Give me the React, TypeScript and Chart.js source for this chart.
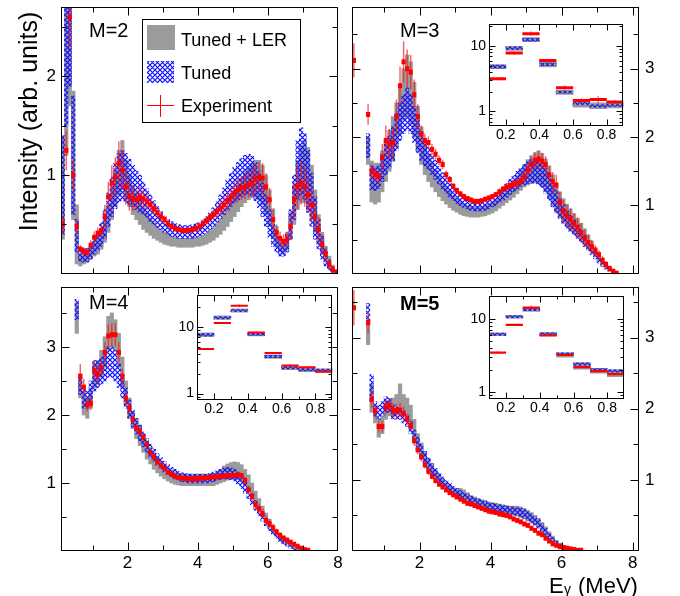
import React, { useEffect, useRef } from "react";
import { Chart, registerables } from "chart.js";

Chart.register(...registerables);

const FONT = '"Liberation Sans", Arial, Helvetica, sans-serif';
const GRAY = "#9b9b9b";
const RED = "#ff0000";
const RED_ERR = "rgba(255,20,20,0.7)";
const BLUE = "#1010ff";

type Arr = (number | null)[];

// ---- bin centres (MeV) of the main spectra ----
const E_MAIN = [0.15,0.25,0.35,0.45,0.55,0.65,0.75,0.85,0.95,1.05,1.15,1.25,1.35,1.45,1.55,1.65,1.75,1.85,1.95,2.05,2.15,2.25,2.35,2.45,2.55,2.65,2.75,2.85,2.95,3.05,3.15,3.25,3.35,3.45,3.55,3.65,3.75,3.85,3.95,4.05,4.15,4.25,4.35,4.45,4.55,4.65,4.75,4.85,4.95,5.05,5.15,5.25,5.35,5.45,5.55,5.65,5.75,5.85,5.95,6.05,6.15,6.25,6.35,6.45,6.55,6.65,6.75,6.85,6.95,7.05,7.15,7.25,7.35,7.45,7.55,7.65,7.75,7.85,7.95];

// ---- inset bin centres (MeV) ----
const E_INSET = [0.15,0.25,0.35,0.45,0.55,0.65,0.75,0.85];

// ---- tick labels ----
const MAIN_X_LABELS = ["2","4","6","8"];
const MAIN_Y_LABELS = ["1","2","3"];
const INSET_X_LABELS = ["0.2","0.4","0.6","0.8"];
const INSET_Y_LABELS = ["1","10"];

// ================= M = 2 =================
const M2_RED: Arr = [0.50,1.25,2.60,1.00,0.48,0.25,0.23,0.22,0.29,0.37,
0.41,0.44,0.58,0.78,0.92,0.98,1.12,1.05,0.88,0.79,
0.76,0.75,0.78,0.76,0.73,0.70,0.66,0.62,0.58,0.55,
0.51,0.48,0.46,0.45,0.44,0.44,0.44,0.45,0.46,0.48,
0.51,0.54,0.57,0.60,0.63,0.66,0.70,0.74,0.78,0.82,
0.85,0.87,0.88,0.90,0.92,0.96,0.98,0.97,0.88,0.75,
0.55,0.42,0.36,0.33,0.35,0.48,0.75,0.88,0.92,0.88,
0.80,0.70,0.58,0.45,0.30,0.20,0.10,0.05,0.02];
const M2_ERR: Arr = [0.08,0.20,0.30,0.15,0.08,0.04,0.04,0.04,0.05,0.06,
0.06,0.07,0.12,0.15,0.18,0.20,0.22,0.20,0.18,0.15,
0.12,0.10,0.10,0.09,0.08,0.07,0.06,0.05,0.05,0.04,
0.04,0.03,0.03,0.03,0.03,0.03,0.03,0.03,0.03,0.04,
0.04,0.04,0.05,0.05,0.06,0.07,0.08,0.09,0.10,0.11,
0.12,0.12,0.12,0.13,0.14,0.15,0.15,0.15,0.14,0.12,
0.10,0.08,0.07,0.07,0.08,0.12,0.18,0.22,0.22,0.20,
0.18,0.16,0.14,0.12,0.10,0.07,0.05,0.03,0.02];
const M2_BLUE_LO: Arr = [0.40,1.50,1.90,0.60,0.22,0.13,0.12,0.12,0.15,0.20,
0.24,0.28,0.36,0.48,0.58,0.66,0.72,0.74,0.72,0.70,
0.68,0.65,0.62,0.60,0.57,0.53,0.50,0.47,0.45,0.42,
0.40,0.38,0.37,0.36,0.36,0.36,0.36,0.36,0.37,0.38,
0.40,0.42,0.45,0.48,0.52,0.56,0.60,0.64,0.68,0.72,
0.75,0.78,0.80,0.81,0.79,0.74,0.67,0.58,0.48,0.37,
0.28,0.22,0.18,0.18,0.22,0.35,0.55,0.75,0.80,0.75,
0.62,0.48,0.35,0.25,0.15,0.08,0.04,0.01,0.00];
const M2_BLUE_HI: Arr = [1.40,2.80,2.80,1.80,0.55,0.27,0.26,0.26,0.30,0.38,
0.44,0.52,0.65,0.82,0.98,1.12,1.22,1.25,1.22,1.16,
1.10,1.05,1.00,0.93,0.86,0.80,0.74,0.68,0.63,0.58,
0.55,0.53,0.51,0.50,0.49,0.49,0.49,0.50,0.51,0.52,
0.55,0.58,0.62,0.67,0.73,0.80,0.87,0.95,1.02,1.08,
1.13,1.17,1.20,1.21,1.19,1.13,1.04,0.93,0.80,0.65,
0.50,0.39,0.32,0.30,0.40,0.65,1.00,1.35,1.48,1.42,
1.25,1.02,0.78,0.55,0.38,0.25,0.14,0.07,0.03];
const M2_GRAY_LO: Arr = [0.35,1.20,1.70,0.55,0.10,0.08,0.10,0.12,0.15,0.18,
0.20,0.25,0.32,0.42,0.55,0.68,0.80,0.85,0.75,0.68,
0.60,0.55,0.50,0.45,0.42,0.39,0.36,0.34,0.32,0.30,
0.29,0.28,0.28,0.27,0.27,0.27,0.27,0.27,0.28,0.28,
0.29,0.30,0.32,0.34,0.37,0.40,0.44,0.48,0.53,0.58,
0.63,0.68,0.72,0.75,0.77,0.77,0.75,0.70,0.60,0.48,
0.36,0.27,0.22,0.20,0.24,0.35,0.50,0.65,0.72,0.72,
0.65,0.55,0.42,0.30,0.20,0.12,0.06,0.02,0.00];
const M2_GRAY_HI: Arr = [1.40,2.80,2.80,1.85,0.70,0.20,0.22,0.24,0.28,0.33,
0.38,0.45,0.55,0.70,0.88,1.05,1.25,1.35,1.15,1.00,
0.90,0.82,0.75,0.68,0.62,0.57,0.52,0.48,0.45,0.42,
0.40,0.38,0.37,0.36,0.36,0.36,0.36,0.37,0.37,0.37,
0.39,0.41,0.44,0.47,0.51,0.56,0.62,0.68,0.75,0.82,
0.90,0.97,1.03,1.08,1.12,1.15,1.15,1.10,1.00,0.85,
0.66,0.48,0.37,0.33,0.42,0.62,0.90,1.15,1.30,1.35,
1.28,1.10,0.85,0.60,0.42,0.28,0.18,0.09,0.04];

// ================= M = 3 =================
const M3_RED: Arr = [3.12,null,null,null,2.33,1.50,1.45,1.42,1.70,1.95,
1.90,1.92,2.30,2.75,3.10,3.00,2.95,2.62,2.30,2.05,
1.95,1.92,1.82,1.75,1.66,1.60,1.45,1.38,1.28,1.22,
1.17,1.13,1.10,1.08,1.06,1.06,1.07,1.09,1.11,1.13,
1.16,1.20,1.24,1.27,1.29,1.31,1.33,1.36,1.42,1.52,
1.60,1.66,1.68,1.65,1.60,1.45,1.35,1.30,1.05,0.92,
0.85,0.80,0.74,0.68,0.60,0.52,0.46,0.40,0.34,0.28,
0.20,0.14,0.08,0.04,0.01];
const M3_ERR: Arr = [0.25,null,null,null,0.15,0.10,0.10,0.10,0.20,0.22,
0.22,0.22,0.25,0.28,0.30,0.28,0.25,0.22,0.18,0.12,
0.10,0.09,0.08,0.08,0.07,0.07,0.06,0.05,0.05,0.04,
0.04,0.04,0.04,0.04,0.04,0.04,0.04,0.04,0.04,0.04,
0.04,0.05,0.05,0.05,0.06,0.06,0.07,0.08,0.09,0.10,
0.11,0.12,0.12,0.12,0.12,0.12,0.14,0.15,0.15,0.16,
0.16,0.16,0.15,0.15,0.14,0.13,0.12,0.10,0.08,0.07,
0.06,0.05,0.04,0.03,0.02];
const M3_BLUE_LO: Arr = [null,null,null,null,1.70,1.23,1.22,1.25,1.35,1.45,
1.55,1.65,1.80,1.95,2.05,2.10,2.05,1.92,1.77,1.66,
1.58,1.52,1.45,1.38,1.31,1.24,1.18,1.12,1.07,1.03,
1.00,0.97,0.95,0.93,0.92,0.92,0.92,0.93,0.95,0.98,
1.00,1.04,1.08,1.12,1.16,1.20,1.24,1.28,1.30,1.32,
1.33,1.33,1.30,1.26,1.18,1.08,0.98,0.89,0.81,0.74,
0.67,0.62,0.57,0.52,0.46,0.40,0.34,0.28,0.22,0.16,
0.11,0.07,0.04,0.02,0.00];
const M3_BLUE_HI: Arr = [null,null,null,null,2.05,1.58,1.55,1.58,1.75,1.90,
2.02,2.15,2.35,2.50,2.62,2.72,2.62,2.45,2.25,2.07,
1.95,1.85,1.75,1.66,1.57,1.48,1.40,1.33,1.27,1.21,
1.17,1.13,1.10,1.08,1.07,1.06,1.07,1.08,1.10,1.13,
1.17,1.21,1.26,1.32,1.38,1.44,1.50,1.55,1.60,1.64,
1.67,1.68,1.66,1.62,1.55,1.45,1.34,1.22,1.10,1.01,
0.93,0.86,0.79,0.72,0.65,0.57,0.49,0.41,0.33,0.26,
0.19,0.13,0.08,0.05,0.02];
const M3_GRAY_LO: Arr = [null,null,null,null,1.60,1.05,1.02,1.05,1.20,1.35,
1.50,1.65,1.85,2.05,2.25,2.30,2.20,2.00,1.80,1.60,
1.45,1.35,1.27,1.20,1.13,1.07,1.02,0.97,0.93,0.90,
0.87,0.85,0.84,0.83,0.83,0.83,0.84,0.85,0.87,0.89,
0.92,0.96,1.00,1.04,1.08,1.12,1.17,1.22,1.27,1.30,
1.32,1.33,1.32,1.28,1.20,1.10,1.00,0.90,0.82,0.75,
0.69,0.64,0.59,0.54,0.49,0.43,0.37,0.31,0.25,0.19,
0.13,0.08,0.04,0.02,0.00];
const M3_GRAY_HI: Arr = [null,null,null,null,2.00,1.65,1.62,1.62,1.80,1.95,
2.10,2.30,2.50,2.72,3.00,3.20,3.10,2.80,2.45,2.15,
1.90,1.75,1.63,1.52,1.43,1.35,1.28,1.21,1.15,1.10,
1.06,1.03,1.00,0.99,0.98,0.98,0.99,1.00,1.02,1.05,
1.09,1.13,1.18,1.24,1.30,1.37,1.44,1.52,1.60,1.67,
1.73,1.77,1.80,1.76,1.68,1.58,1.45,1.32,1.20,1.10,
1.02,0.95,0.88,0.81,0.74,0.66,0.57,0.48,0.39,0.31,
0.23,0.16,0.10,0.06,0.02];

// ================= M = 4 =================
const M4_RED: Arr = [null,null,null,null,null,2.57,2.41,2.15,2.17,2.65,
2.60,2.69,2.92,3.16,3.18,3.18,2.92,2.56,2.24,2.10,
1.93,1.81,1.76,1.67,1.57,1.45,1.38,1.31,1.26,1.22,
1.16,1.13,1.10,1.08,1.07,1.07,1.06,1.06,1.06,1.07,
1.07,1.08,1.08,1.09,1.09,1.10,1.10,1.11,1.11,1.11,
1.12,1.11,1.04,0.90,0.80,0.68,0.62,0.55,0.45,0.40,
0.34,0.28,0.23,0.19,0.16,0.13,0.10,0.07,0.04,0.02,
0.01];
const M4_ERR: Arr = [null,null,null,null,null,0.18,0.12,0.10,0.10,0.14,
0.12,0.12,0.15,0.17,0.17,0.17,0.15,0.12,0.10,0.08,
0.07,0.06,0.06,0.05,0.05,0.05,0.04,0.04,0.04,0.04,
0.03,0.03,0.03,0.03,0.03,0.03,0.03,0.03,0.03,0.03,
0.03,0.03,0.03,0.03,0.03,0.03,0.03,0.03,0.03,0.03,
0.03,0.04,0.05,0.06,0.07,0.07,0.07,0.07,0.07,0.06,
0.06,0.05,0.05,0.04,0.04,0.03,0.03,0.02,0.02,0.02,
0.01];
const M4_BLUE_LO: Arr = [null,null,null,null,3.40,2.30,2.10,2.10,2.20,2.35,
2.40,2.45,2.50,2.55,2.55,2.50,2.40,2.25,2.10,1.95,
1.82,1.72,1.62,1.53,1.45,1.38,1.32,1.26,1.21,1.16,
1.12,1.09,1.06,1.04,1.02,1.01,1.00,1.00,1.00,1.00,
1.00,1.00,1.01,1.02,1.04,1.05,1.06,1.06,1.05,1.03,
0.98,0.92,0.85,0.77,0.68,0.60,0.52,0.44,0.37,0.30,
0.24,0.19,0.14,0.10,0.07,0.04,0.02,0.01,0.00];
const M4_BLUE_HI: Arr = [null,null,null,null,3.70,2.55,2.40,2.35,2.50,2.80,
2.80,2.85,2.95,3.00,3.00,2.95,2.75,2.60,2.40,2.22,
2.07,1.95,1.85,1.75,1.65,1.57,1.50,1.43,1.37,1.32,
1.27,1.23,1.20,1.17,1.15,1.14,1.13,1.13,1.13,1.13,
1.13,1.13,1.14,1.16,1.18,1.20,1.22,1.23,1.22,1.20,
1.16,1.10,1.02,0.94,0.84,0.74,0.65,0.56,0.47,0.39,
0.32,0.26,0.20,0.15,0.11,0.08,0.05,0.03,0.02];
const M4_GRAY_LO: Arr = [null,null,null,null,3.20,2.25,2.00,1.95,2.10,2.40,
2.45,2.55,2.70,2.95,3.00,2.95,2.70,2.40,2.15,1.95,
1.80,1.65,1.55,1.45,1.35,1.28,1.20,1.15,1.10,1.06,
1.03,1.00,0.98,0.97,0.96,0.96,0.96,0.96,0.96,0.96,
0.96,0.96,0.96,0.96,0.98,1.00,1.02,1.04,1.05,1.06,
1.05,1.02,0.97,0.90,0.80,0.70,0.60,0.51,0.43,0.35,
0.28,0.22,0.17,0.12,0.09,0.06,0.04,0.02,0.01,0.00];
const M4_GRAY_HI: Arr = [null,null,null,null,3.65,2.60,2.35,2.25,2.40,2.75,
2.80,2.95,3.15,3.45,3.50,3.40,3.20,2.85,2.50,2.25,
2.05,1.95,1.85,1.72,1.62,1.52,1.45,1.38,1.32,1.27,
1.22,1.19,1.16,1.14,1.13,1.13,1.13,1.13,1.13,1.13,
1.13,1.13,1.13,1.14,1.16,1.20,1.25,1.28,1.30,1.31,
1.30,1.27,1.20,1.12,1.00,0.88,0.77,0.66,0.56,0.47,
0.38,0.31,0.24,0.18,0.14,0.10,0.07,0.05,0.03,0.02];

// ================= M = 5 =================
const M5_RED: Arr = [3.42,null,null,null,3.21,2.13,1.97,1.75,1.75,2.02,
2.05,1.98,1.97,1.98,1.93,1.85,1.76,1.55,1.42,1.32,
1.21,1.12,1.05,0.99,0.94,0.90,0.86,0.82,0.79,0.76,
0.73,0.70,0.67,0.66,0.64,0.62,0.60,0.58,0.56,0.55,
0.54,0.52,0.51,0.50,0.48,0.45,0.43,0.41,0.38,0.36,
0.32,0.29,0.25,0.23,0.18,0.14,0.10,0.08,0.06,0.05,
0.04,0.03,0.02,0.01,0.01];
const M5_ERR: Arr = [0.25,null,null,null,0.15,0.12,0.10,0.08,0.08,0.10,
0.10,0.10,0.10,0.10,0.10,0.08,0.08,0.07,0.06,0.06,
0.05,0.05,0.04,0.04,0.04,0.03,0.03,0.03,0.03,0.03,
0.03,0.03,0.03,0.03,0.03,0.03,0.03,0.03,0.03,0.03,
0.03,0.03,0.03,0.03,0.03,0.03,0.03,0.03,0.02,0.02,
0.02,0.02,0.02,0.02,0.02,0.02,0.02,0.02,0.02,0.02,
0.02,0.01,0.01,0.01,0.01];
const M5_BLUE_LO: Arr = [null,null,null,null,3.21,2.10,1.90,1.85,1.90,1.95,
1.95,1.86,1.85,1.85,1.80,1.75,1.65,1.52,1.42,1.33,
1.24,1.16,1.09,1.03,0.97,0.92,0.88,0.84,0.80,0.77,
0.74,0.71,0.69,0.67,0.65,0.63,0.62,0.60,0.59,0.57,
0.56,0.55,0.54,0.53,0.52,0.51,0.50,0.48,0.46,0.43,
0.40,0.37,0.33,0.28,0.22,0.17,0.12,0.08,0.05,0.03,
0.02,0.01,0.00];
const M5_BLUE_HI: Arr = [null,null,null,null,3.48,2.48,2.10,2.05,2.10,2.17,
2.15,2.05,2.02,2.00,1.97,1.92,1.82,1.70,1.60,1.50,
1.40,1.31,1.23,1.16,1.10,1.04,0.99,0.95,0.91,0.88,
0.85,0.82,0.80,0.77,0.75,0.73,0.72,0.70,0.68,0.67,
0.66,0.65,0.64,0.63,0.62,0.62,0.61,0.60,0.58,0.55,
0.52,0.48,0.44,0.38,0.32,0.25,0.19,0.14,0.10,0.07,
0.05,0.03,0.02];
const M5_GRAY_LO: Arr = [null,null,null,null,2.90,1.95,1.80,1.60,1.65,1.85,
1.90,1.90,1.92,1.95,1.90,1.85,1.72,1.55,1.42,1.30,
1.20,1.12,1.05,0.98,0.93,0.88,0.83,0.80,0.77,0.74,
0.72,0.70,0.68,0.66,0.64,0.62,0.60,0.59,0.57,0.56,
0.55,0.54,0.53,0.52,0.51,0.50,0.49,0.47,0.45,0.42,
0.39,0.36,0.32,0.27,0.22,0.17,0.12,0.08,0.05,0.03,
0.02,0.01,0.00];
const M5_GRAY_HI: Arr = [null,null,null,null,3.25,2.35,2.05,1.85,1.90,2.10,
2.12,2.15,2.20,2.35,2.20,2.15,2.05,1.85,1.65,1.52,
1.40,1.30,1.22,1.14,1.07,1.01,0.96,0.92,0.89,0.87,
0.88,0.86,0.82,0.78,0.76,0.74,0.72,0.71,0.69,0.68,
0.67,0.66,0.65,0.64,0.63,0.63,0.63,0.62,0.60,0.57,
0.54,0.50,0.46,0.40,0.34,0.27,0.21,0.15,0.11,0.08,
0.05,0.03,0.02];

// ================= insets (low-energy bins, log scale) =================
const I3_RED: Arr = [3.16,7.8,15.4,6.0,2.31,1.47,1.52,1.40];
const I3_ERR: Arr = [0.15,0.5,1.2,0.35,0.18,0.12,0.2,0.1];
const I3_BLUE_LO: Arr = [4.6,8.8,11.9,5.0,1.90,1.26,1.16,1.19];
const I3_BLUE_HI: Arr = [5.1,9.7,13.1,5.5,2.05,1.37,1.27,1.30];
const I3_GRAY_LO: Arr = [4.5,8.6,11.7,4.8,1.83,1.16,1.10,1.13];
const I3_GRAY_HI: Arr = [5.2,9.9,13.4,5.7,2.10,1.42,1.35,1.36];

const I4_RED: Arr = [4.69,11.6,21.0,8.3,4.1,2.65,2.5,2.14];
const I4_ERR: Arr = [0.1,0.2,1.0,0.3,0.1,0.12,0.06,0.05];
const I4_BLUE_LO: Arr = [7.35,13.3,17.1,7.55,3.48,2.35,2.20,2.16];
const I4_BLUE_HI: Arr = [8.0,14.5,18.5,8.15,3.77,2.54,2.38,2.33];
const I4_GRAY_LO: Arr = [7.2,13.1,16.8,7.4,3.40,2.30,2.14,2.08];
const I4_GRAY_HI: Arr = [8.2,14.8,18.9,8.3,3.85,2.58,2.42,2.36];

const I5_RED: Arr = [3.46,8.3,14.3,5.92,3.2,2.18,1.93,1.75];
const I5_ERR: Arr = [0.15,0.2,1.0,0.15,0.08,0.06,0.05,0.05];
const I5_BLUE_LO: Arr = [5.95,10.3,12.9,6.02,3.18,2.32,1.94,1.86];
const I5_BLUE_HI: Arr = [6.38,11.1,13.9,6.46,3.42,2.50,2.08,2.00];
const I5_GRAY_LO: Arr = [5.9,10.2,12.8,5.95,3.0,2.05,1.80,1.62];
const I5_GRAY_HI: Arr = [6.45,11.2,14.0,6.55,3.45,2.52,2.10,2.02];

// ------------------------------------------------------------------
type Series = { red: Arr; err: Arr; blueLo: Arr; blueHi: Arr; grayLo: Arr; grayHi: Arr };
type Box = { left: number; top: number; width: number; height: number };

function makeHatch(): any {
  const c = document.createElement("canvas");
  c.width = 5;
  c.height = 5;
  const g = c.getContext("2d");
  if (!g) return BLUE;
  g.strokeStyle = BLUE;
  g.lineWidth = 1.15;
  g.beginPath();
  g.moveTo(-1, -1);
  g.lineTo(6, 6);
  g.moveTo(6, -1);
  g.lineTo(-1, 6);
  g.stroke();
  return g.createPattern(c, "repeat") || BLUE;
}

function rangeData(xs: number[], lo: Arr, hi: Arr) {
  const out: any[] = [];
  xs.forEach((x, i) => {
    const a = lo[i];
    const b = hi[i];
    if (a != null && b != null) out.push({ x, y: [a, b] });
  });
  return out;
}
function errData(xs: number[], v: Arr, e: Arr) {
  const out: any[] = [];
  xs.forEach((x, i) => {
    const a = v[i];
    const b = e[i];
    if (a != null && b != null) out.push({ x, y: [a - b, a + b] });
  });
  return out;
}
function pointData(xs: number[], v: Arr) {
  const out: any[] = [];
  xs.forEach((x, i) => {
    const a = v[i];
    if (a != null) out.push({ x, y: a });
  });
  return out;
}

function seriesDatasets(xs: number[], s: Series, hatch: any, r: number, w: number, errW: number) {
  return [
    { type: "bar", label: "Tuned + LER", data: rangeData(xs, s.grayLo, s.grayHi), backgroundColor: GRAY,
      grouped: false, barPercentage: 1, categoryPercentage: 1, borderWidth: 0, order: 4 },
    { type: "bar", label: "Tuned", data: rangeData(xs, s.blueLo, s.blueHi), backgroundColor: hatch,
      grouped: false, barPercentage: 1, categoryPercentage: 1, borderWidth: 0, order: 3 },
    { type: "bar", label: "Experiment (error)", data: errData(xs, s.red, s.err), backgroundColor: RED_ERR,
      grouped: false, barThickness: errW, inflateAmount: 0, borderWidth: 0, order: 2 },
    { type: "scatter", label: "Experiment", data: pointData(xs, s.red), pointStyle: "line",
      pointRadius: r, pointHoverRadius: r, borderColor: RED, backgroundColor: RED,
      pointBorderColor: RED, pointBorderWidth: w, order: 1 },
  ];
}

type TickFn = (v: number) => number;

function makeDecor(cfg: { tx: TickFn; ty: TickFn; major: number; minor: number; white?: boolean; draw?: (ctx: any) => void }) {
  return {
    id: "decor",
    beforeDatasetsDraw(chart: any) {
      if (!cfg.white) return;
      const a = chart.chartArea;
      const ctx = chart.ctx;
      ctx.save();
      ctx.fillStyle = "#fff";
      ctx.fillRect(a.left, a.top, a.right - a.left, a.bottom - a.top);
      ctx.restore();
    },
    afterDatasetsDraw(chart: any) {
      const ctx = chart.ctx;
      const a = chart.chartArea;
      const sx = chart.scales.x;
      const sy = chart.scales.y;
      const L = Math.round(a.left) + 0.5;
      const R = Math.round(a.right) - 0.5;
      const T = Math.round(a.top) + 0.5;
      const B = Math.round(a.bottom) - 0.5;
      ctx.save();
      ctx.strokeStyle = "#000";
      ctx.lineWidth = 1;
      ctx.beginPath();
      for (const t of sx.ticks) {
        const k = cfg.tx(t.value);
        if (!k) continue;
        const px = Math.round(sx.getPixelForValue(t.value)) + 0.5;
        if (px <= L + 1 || px >= R - 1) continue;
        const len = k === 2 ? cfg.major : cfg.minor;
        ctx.moveTo(px, B);
        ctx.lineTo(px, B - len);
        ctx.moveTo(px, T);
        ctx.lineTo(px, T + len);
      }
      for (const t of sy.ticks) {
        const k = cfg.ty(t.value);
        if (!k) continue;
        const py = Math.round(sy.getPixelForValue(t.value)) + 0.5;
        if (py <= T + 1 || py >= B - 1) continue;
        const len = k === 2 ? cfg.major : cfg.minor;
        ctx.moveTo(L, py);
        ctx.lineTo(L + len, py);
        ctx.moveTo(R, py);
        ctx.lineTo(R - len, py);
      }
      ctx.stroke();
      ctx.strokeRect(L, T, R - L, B - T);
      ctx.restore();
      if (cfg.draw) {
        ctx.save();
        cfg.draw(ctx);
        ctx.restore();
      }
    },
  };
}

const near = (a: number, b: number) => Math.abs(a - b) < 1e-6;
const mainTickX: TickFn = (v) => {
  const n = Math.round(v);
  if (!near(v, n) || n <= 0) return 0;
  return n % 2 === 0 ? 2 : 1;
};
const mainTickY: TickFn = (v) => {
  const n = Math.round(v * 2);
  if (!near(v * 2, n) || n <= 0) return 0;
  return n % 2 === 0 ? 2 : 1;
};
const insetTickX: TickFn = (v) => {
  const n = Math.round(v * 10);
  if (!near(v * 10, n)) return 0;
  return n % 2 === 0 ? 2 : 1;
};
const insetTickY: TickFn = (v) => {
  if (v <= 0) return 0;
  const e = Math.floor(Math.log10(v) + 1e-9);
  const m = v / Math.pow(10, e);
  const r = Math.round(m);
  if (Math.abs(m - r) > 1e-6) return 0;
  return r === 1 ? 2 : 1;
};

const labelIn = (list: string[], fmt: (v: number) => string) => (v: any) => {
  const s = fmt(Number(v));
  return list.indexOf(s) >= 0 ? s : "";
};
const mainXLabel = labelIn(MAIN_X_LABELS, (v) => (near(v, Math.round(v)) ? String(Math.round(v)) : ""));
const mainYLabel = labelIn(MAIN_Y_LABELS, (v) => (near(v, Math.round(v)) ? String(Math.round(v)) : ""));
const insetXLabel = labelIn(INSET_X_LABELS, (v) => (Math.round(v * 10) / 10).toFixed(1));
const insetYLabel = labelIn(INSET_Y_LABELS, (v) => (near(v, Math.round(v)) ? String(Math.round(v)) : ""));

// ------------------------------------------------------------------
type MainSpec = {
  key: string; box: Box; s: Series; label: string; bold: boolean; labelX: number; labelY: number;
  padding: any; yAxisW: number; xAxisH: number; xMax: number; yMax: number; yRight: boolean; xLabels: boolean;
  extra?: (ctx: any, hatch: any) => void;
};

function buildMain(p: MainSpec) {
  const hatch = makeHatch();
  const tickFont = { family: FONT, size: 17 };
  return {
    type: "bar",
    data: { datasets: seriesDatasets(E_MAIN, p.s, hatch, 2.1, 5, 1.4) },
    options: {
      responsive: false,
      animation: false,
      events: [],
      layout: { padding: p.padding },
      plugins: { legend: { display: false }, tooltip: { enabled: false } },
      scales: {
        x: {
          type: "linear", min: 0.1, max: p.xMax, offset: false,
          grid: { display: false, drawTicks: false }, border: { display: false },
          ticks: { display: p.xLabels, stepSize: 1, includeBounds: false, autoSkip: false, maxRotation: 0, minRotation: 0,
            padding: 2, color: "#000", font: tickFont, callback: mainXLabel },
          afterFit: (sc: any) => { sc.height = p.xAxisH; sc.paddingLeft = 0; sc.paddingRight = 0; },
        },
        y: {
          type: "linear", position: p.yRight ? "right" : "left", min: 0, max: p.yMax,
          grid: { display: false, drawTicks: false }, border: { display: false },
          ticks: { stepSize: 0.5, includeBounds: false, autoSkip: false, padding: p.yRight ? 6 : 5, color: "#000", font: tickFont, callback: mainYLabel },
          afterFit: (sc: any) => { sc.width = p.yAxisW; sc.paddingTop = 0; sc.paddingBottom = 0; },
        },
      },
    },
    plugins: [
      makeDecor({
        tx: mainTickX, ty: mainTickY, major: 8, minor: 5,
        draw: (ctx) => {
          ctx.fillStyle = "#000";
          ctx.textAlign = "left";
          ctx.textBaseline = "alphabetic";
          ctx.font = `${p.bold ? "bold " : ""}20px ${FONT}`;
          ctx.fillText(p.label, p.labelX, p.labelY);
          if (p.extra) p.extra(ctx, hatch);
        },
      }),
    ],
  };
}

type InsetSpec = { key: string; box: Box; s: Series; yMin: number; yMax: number; xAxisH: number; redW: number };

function buildInset(p: InsetSpec) {
  const hatch = makeHatch();
  const tickFont = { family: FONT, size: 14 };
  return {
    type: "bar",
    data: { datasets: seriesDatasets(E_INSET, p.s, hatch, 8.6, p.redW, 1.2) },
    options: {
      responsive: false,
      animation: false,
      events: [],
      layout: { padding: { top: 7, right: 8, bottom: 0, left: 0 } },
      plugins: { legend: { display: false }, tooltip: { enabled: false } },
      scales: {
        x: {
          type: "linear", min: 0.1, max: 0.9, offset: false,
          grid: { display: false, drawTicks: false }, border: { display: false },
          ticks: { stepSize: 0.1, autoSkip: false, maxRotation: 0, minRotation: 0, padding: 1,
            color: "#000", font: tickFont, callback: insetXLabel },
          afterFit: (sc: any) => { sc.height = p.xAxisH; sc.paddingLeft = 0; sc.paddingRight = 0; },
        },
        y: {
          type: "logarithmic", position: "left", min: p.yMin, max: p.yMax,
          grid: { display: false, drawTicks: false }, border: { display: false },
          ticks: { autoSkip: false, padding: 3, color: "#000", font: tickFont, callback: insetYLabel },
          afterFit: (sc: any) => { sc.width = 34; sc.paddingTop = 0; sc.paddingBottom = 0; },
        },
      },
    },
    plugins: [makeDecor({ tx: insetTickX, ty: insetTickY, major: 6, minor: 3, white: true })],
  };
}

// ------------------------------------------------------------------
const drawLegendAndTitle = (ctx: any, hatch: any) => {
  // y-axis title
  ctx.save();
  ctx.translate(37, 121.5);
  ctx.rotate(-Math.PI / 2);
  ctx.font = `25px ${FONT}`;
  ctx.textAlign = "center";
  ctx.textBaseline = "alphabetic";
  ctx.fillStyle = "#000";
  ctx.fillText("Intensity (arb. units)", 0, 0);
  ctx.restore();
  // legend
  ctx.fillStyle = "#fff";
  ctx.fillRect(142, 19, 159, 104);
  ctx.strokeStyle = "#000";
  ctx.lineWidth = 1;
  ctx.strokeRect(142.5, 19.5, 158, 103);
  ctx.fillStyle = GRAY;
  ctx.fillRect(147, 25, 28, 25);
  ctx.fillStyle = hatch;
  ctx.fillRect(147, 61, 27, 22);
  ctx.strokeStyle = RED;
  ctx.beginPath();
  ctx.moveTo(147, 105.5);
  ctx.lineTo(174, 105.5);
  ctx.moveTo(160.5, 95);
  ctx.lineTo(160.5, 117);
  ctx.stroke();
  ctx.fillStyle = "#000";
  ctx.font = `18px ${FONT}`;
  ctx.textAlign = "left";
  ctx.textBaseline = "alphabetic";
  ctx.fillText("Tuned + LER", 181, 46);
  ctx.fillText("Tuned", 181, 79);
  ctx.fillText("Experiment", 181, 112);
};

const drawXTitle = (ctx: any) => {
  ctx.fillStyle = "#000";
  ctx.textAlign = "left";
  ctx.textBaseline = "alphabetic";
  ctx.font = `22px ${FONT}`;
  ctx.fillText("E", 204, 313);
  ctx.font = `14px ${FONT}`;
  ctx.fillText("γ", 219, 314);
  ctx.font = `22px ${FONT}`;
  ctx.fillText("(MeV)", 233, 313);
};

const MAIN_PANELS: MainSpec[] = [
  { key: "m2", box: { left: 0, top: 0, width: 345, height: 281 },
    s: { red: M2_RED, err: M2_ERR, blueLo: M2_BLUE_LO, blueHi: M2_BLUE_HI, grayLo: M2_GRAY_LO, grayHi: M2_GRAY_HI },
    label: "M=2", bold: false, labelX: 89, labelY: 37,
    padding: { top: 7, right: 4, bottom: 0, left: 0 }, yAxisW: 61, xAxisH: 4, xMax: 8.0, yMax: 2.7, yRight: false, xLabels: false,
    extra: drawLegendAndTitle },
  { key: "m3", box: { left: 345, top: 0, width: 335, height: 281 },
    s: { red: M3_RED, err: M3_ERR, blueLo: M3_BLUE_LO, blueHi: M3_BLUE_HI, grayLo: M3_GRAY_LO, grayHi: M3_GRAY_HI },
    label: "M=3", bold: false, labelX: 55, labelY: 37,
    padding: { top: 7, right: 0, bottom: 0, left: 7 }, yAxisW: 41, xAxisH: 4, xMax: 8.18, yMax: 3.9, yRight: true, xLabels: false },
  { key: "m4", box: { left: 0, top: 280, width: 345, height: 316 },
    s: { red: M4_RED, err: M4_ERR, blueLo: M4_BLUE_LO, blueHi: M4_BLUE_HI, grayLo: M4_GRAY_LO, grayHi: M4_GRAY_HI },
    label: "M=4", bold: false, labelX: 89, labelY: 29,
    padding: { top: 1, right: 4, bottom: 0, left: 0 }, yAxisW: 61, xAxisH: 45, xMax: 8.0, yMax: 3.88, yRight: false, xLabels: true },
  { key: "m5", box: { left: 345, top: 280, width: 335, height: 316 },
    s: { red: M5_RED, err: M5_ERR, blueLo: M5_BLUE_LO, blueHi: M5_BLUE_HI, grayLo: M5_GRAY_LO, grayHi: M5_GRAY_HI },
    label: "M=5", bold: true, labelX: 55, labelY: 30,
    padding: { top: 1, right: 0, bottom: 0, left: 7 }, yAxisW: 41, xAxisH: 45, xMax: 8.18, yMax: 3.71, yRight: true, xLabels: true,
    extra: (ctx) => drawXTitle(ctx) },
];

const INSETS: InsetSpec[] = [
  { key: "i3", box: { left: 455, top: 12, width: 180, height: 140 },
    s: { red: I3_RED, err: I3_ERR, blueLo: I3_BLUE_LO, blueHi: I3_BLUE_HI, grayLo: I3_GRAY_LO, grayHi: I3_GRAY_HI },
    yMin: 0.6, yMax: 22, xAxisH: 26, redW: 3 },
  { key: "i4", box: { left: 163, top: 284, width: 180, height: 140 },
    s: { red: I4_RED, err: I4_ERR, blueLo: I4_BLUE_LO, blueHi: I4_BLUE_HI, grayLo: I4_GRAY_LO, grayHi: I4_GRAY_HI },
    yMin: 0.8, yMax: 31, xAxisH: 24, redW: 2 },
  { key: "i5", box: { left: 455, top: 285, width: 180, height: 140 },
    s: { red: I5_RED, err: I5_ERR, blueLo: I5_BLUE_LO, blueHi: I5_BLUE_HI, grayLo: I5_GRAY_LO, grayHi: I5_GRAY_HI },
    yMin: 0.8, yMax: 20.7, xAxisH: 26, redW: 2.2 },
];

function ChartBox({ box, build }: { box: Box; build: () => any }) {
  const ref = useRef<HTMLCanvasElement | null>(null);
  useEffect(() => {
    if (!ref.current) return;
    const chart = new Chart(ref.current, build());
    return () => chart.destroy();
  }, []);
  return (
    <div style={{ position: "absolute", left: box.left, top: box.top, width: box.width, height: box.height }}>
      <canvas ref={ref} width={box.width} height={box.height}
        style={{ display: "block", width: box.width, height: box.height }} />
    </div>
  );
}

export default function App() {
  return (
    <div style={{ position: "absolute", left: 0, top: 0, width: 680, height: 596, background: "#fff", overflow: "hidden" }}>
      {MAIN_PANELS.map((p) => (
        <ChartBox key={p.key} box={p.box} build={() => buildMain(p)} />
      ))}
      {INSETS.map((p) => (
        <ChartBox key={p.key} box={p.box} build={() => buildInset(p)} />
      ))}
    </div>
  );
}
